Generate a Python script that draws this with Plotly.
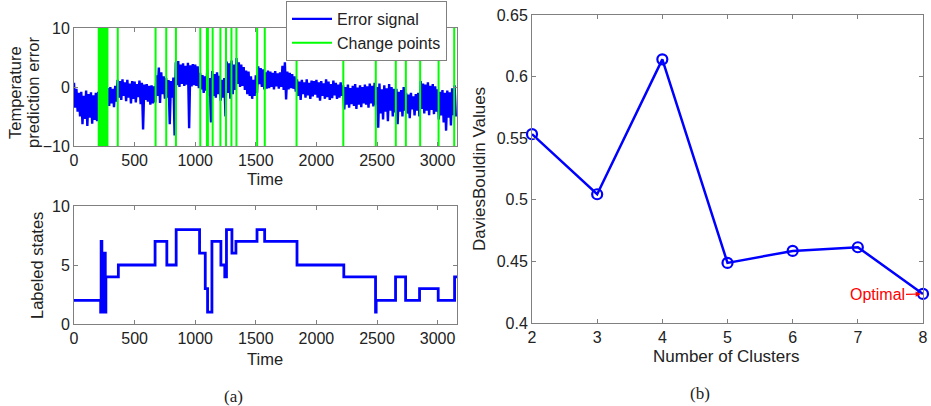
import plotly.graph_objects as go

# ---------------- DATA ----------------
# Error signal: envelope read per 20-unit time bin (upper / lower reading)
ERR_BIN = 20
err_upper = [
    0.7, -0.3, -1.0, -0.8, -1.5, -0.6, -1.2, -0.9, -1.4, -1.0,      # 0-200
    -0.8, -0.5, -0.3, -0.2, -0.2, 0.0, -0.3, 0.2, 1.2, 1.0,          # 200-400
    1.3, 0.8, 1.2, 0.6, 1.0, 0.9, 0.5, 1.1, 0.7, 0.4,                # 400-600
    0.5, 0.2, 0.3, 0.1, 2.0, 3.3, 2.5, 1.8, 1.5, 1.2,                # 600-800
    1.0, 1.6, 4.2, 4.4, 3.8, 4.0, 3.6, 4.1, 3.7, 3.9,                # 800-1000
    3.8, 3.5, 2.4, 2.0, 1.8, 3.0, 1.5, 2.7, 2.2, 2.5,                # 1000-1200
    1.9, 1.2, 1.5, 4.3, 4.0, 4.5, 3.8, 4.9, 4.2, 3.8,                # 1200-1400
    3.4, 2.8, 2.6, 1.8, 1.2, 2.0, 3.5, 3.2, 3.0, 2.5,                # 1400-1600
    2.8, 2.6, 2.4, 2.7, 2.3, 2.5, 3.6, 4.2, 2.6, 2.4,                # 1600-1800
    2.2, 1.8, 1.3, 0.9, 1.2, 0.8, 1.3, 0.7, 1.1, 1.0,                # 1800-2000
    1.2, 0.8, 1.0, 0.6, 1.3, 0.9, 0.5, 1.1, 0.7, 0.4,                # 2000-2200
    0.8, 0.3, 0.0, 0.4, -0.2, 0.2, 0.5, -0.1, 0.3, 0.0,              # 2200-2400
    0.4, 0.1, 0.6, 0.2, 0.7, 0.0, 0.6, -0.4, 0.3, -0.2,              # 2400-2600
    0.5, 0.0, -0.3, -0.3, -0.8, -0.5, 0.0, -1.0, -1.3, -1.0,         # 2600-2800
    -1.6, -1.2, -1.0, 1.0, 0.6, 0.4, 0.8, 0.2, 0.5, 0.1,             # 2800-3000
    -0.4, -0.8, -0.5, -1.0, -0.6, -0.9, -0.2, 0.3,                   # 3000-3160
]
err_lower = [
    -3.5, -4.2, -5.0, -6.3, -5.4, -6.6, -5.2, -6.2, -5.6, -5.8,
    -4.5, -3.8, -3.5, -3.0, -3.2, -2.8, -3.4, -2.5, -1.8, -2.2,
    -1.5, -2.4, -1.8, -2.8, -2.0, -2.6, -1.7, -2.9, -7.2, -2.2,
    -2.5, -3.0, -2.8, -2.6, -1.5, -2.7, -1.2, -2.0, -1.8, -6.3,
    -1.8, -8.2, 0.3, 0.0, 0.5, 0.2, 0.4, -7.0, 0.1, 0.3,
    0.2, -0.2, -0.4, -1.0, -0.6, -1.5, -6.0, -1.5, -1.8, -1.2,
    -2.3, -1.8, -5.0, -1.0, -2.0, -1.2, -0.5, 0.5, 0.0, 0.2,
    -0.5, -1.2, -1.5, -2.0, -1.5, -1.0, 0.5, 0.0, -0.4, -0.3,
    -0.2, 0.0, -0.4, 0.1, -0.3, 0.0, -0.5, -2.1, -0.4, -0.2,
    -0.3, -0.8, -1.5, -2.2, -1.2, -1.8, -1.4, -2.0, -1.6, -1.3,
    -1.8, -2.3, -1.5, -2.0, -1.7, -2.2, -1.9, -1.4, -2.0, -1.8,
    -1.5, -3.8, -3.0, -3.5, -2.9, -3.2, -3.7, -3.0, -3.4, -2.8,
    -3.0, -3.5, -2.8, -3.3, -3.0, -6.9, -4.5, -5.5, -4.2, -5.8,
    -4.0, -5.0, -4.3, -6.3, -4.2, -5.0, -4.0, -4.5, -5.3, -3.8,
    -4.8, -4.0, -5.0, -3.7, -4.5, -4.0, -4.8, -3.9, -4.6, -4.2,
    -5.5, -4.8, -6.0, -7.4, -5.2, -6.5, -4.8, -5.0,
]

change_points = [204, 210, 216, 222, 228, 234, 240, 246, 252, 258, 264, 270, 276,
                 361, 673, 761, 841, 1042, 1097, 1105, 1144, 1208, 1254, 1299, 1340,
                 1511, 1574, 1836, 2222, 2490, 2655, 2738, 2856, 3008, 3137]

# Labeled states (step function: time where each state starts)
state_times = [0, 220, 224, 230, 238, 245, 252, 258, 263, 366, 669, 766, 843, 1036,
               1083, 1102, 1138, 1212, 1244, 1258, 1303, 1336, 1510, 1573, 1840,
               2226, 2488, 2493, 2653, 2736, 2851, 3005, 3140, 3160]
state_values = [2, 1, 7, 1, 5, 1, 6, 1, 4, 5, 7, 5, 8, 6,
                3, 1, 7, 5, 4, 8, 6, 7, 8, 7, 5,
                4, 1, 2, 4, 2, 3, 2, 4, 4]

# Davies-Bouldin
n_clusters = [2, 3, 4, 5, 6, 7, 8]
db_values = [0.5533, 0.5045, 0.614, 0.4488, 0.4585, 0.4615, 0.4236]

time_ticks = [0, 500, 1000, 1500, 2000, 2500, 3000]
db_ticks = [0.4, 0.45, 0.5, 0.55, 0.6, 0.65]
db_ticktext = ["0.4", "0.45", "0.5", "0.55", "0.6", "0.65"]

# ---------------- BUILD ----------------
W, H = 931, 406
BLUE = "#0000FF"
GREEN = "#00FF00"
FRAME = "#808080"
TXT = "#222222"
FONT = "Liberation Sans, Arial, sans-serif"

def px(x):
    return x / W

def py(y):
    return 1 - y / H

n = min(len(err_upper), len(err_lower))
ex, ey = [], []
for i in range(n):
    t = i * ERR_BIN
    ex += [t, t + ERR_BIN / 2]
    ey += [err_upper[i], err_lower[i]]

cx, cy = [], []
for c in change_points:
    cx += [c, c, None]
    cy += [-10, 10, None]

fig = go.Figure()
fig.add_trace(go.Scatter(x=ex, y=ey, mode="lines", name="Error signal",
                         line=dict(color=BLUE, width=2.4), xaxis="x", yaxis="y"))
fig.add_trace(go.Scatter(x=cx, y=cy, mode="lines", name="Change points",
                         line=dict(color=GREEN, width=2), xaxis="x", yaxis="y"))
fig.add_trace(go.Scatter(x=state_times, y=state_values, mode="lines", showlegend=False,
                         line=dict(color=BLUE, width=2.8, shape="hv"), xaxis="x2", yaxis="y2"))
fig.add_trace(go.Scatter(x=n_clusters, y=db_values, mode="lines+markers", showlegend=False,
                         line=dict(color=BLUE, width=2.5),
                         marker=dict(symbol="circle-open", size=10, color=BLUE,
                                     line=dict(color=BLUE, width=2.2)),
                         cliponaxis=False, xaxis="x3", yaxis="y3"))

axcommon = dict(showline=True, linecolor=FRAME, linewidth=1, mirror="ticks",
                ticks="inside", ticklen=4, tickcolor=FRAME, showgrid=False,
                zeroline=False, automargin=False, ticklabeloverflow="allow",
                tickfont=dict(family=FONT, size=16, color=TXT))

fig.update_layout(
    width=W, height=H, autosize=False,
    margin=dict(l=0, r=0, t=0, b=0, autoexpand=False),
    paper_bgcolor="white", plot_bgcolor="white",
    font=dict(family=FONT, color=TXT),
    xaxis=dict(domain=[px(74), px(457)], range=[0, 3160], tickvals=time_ticks,
               anchor="y", **axcommon),
    yaxis=dict(domain=[py(146), py(28)], range=[-10, 10], tickvals=[-10, 0, 10],
               anchor="x", **axcommon),
    xaxis2=dict(domain=[px(74), px(457)], range=[0, 3160], tickvals=time_ticks,
                anchor="y2", **axcommon),
    yaxis2=dict(domain=[py(324), py(206)], range=[0, 10], tickvals=[0, 5, 10],
                anchor="x2", **axcommon),
    xaxis3=dict(domain=[px(532), px(923)], range=[2, 8], tickvals=n_clusters,
                anchor="y3", **axcommon),
    yaxis3=dict(domain=[py(323), py(15)], range=[0.4, 0.65], tickvals=db_ticks,
                ticktext=db_ticktext, anchor="x3", **axcommon),
    legend=dict(x=px(286), y=py(1), xanchor="left", yanchor="top",
                bgcolor="white", bordercolor=FRAME, borderwidth=1,
                font=dict(family=FONT, size=16, color=TXT), itemwidth=40,
                tracegroupgap=0),
    showlegend=True,
)

def label(text, x, y, angle=0, size=16.5, family=FONT, color=TXT):
    fig.add_annotation(text=text, x=px(x), y=py(y), xref="paper", yref="paper",
                       xanchor="center", yanchor="middle", textangle=angle,
                       showarrow=False, font=dict(family=family, size=size, color=color))

label("Temperature", 15, 93, angle=-90)
label("prediction error", 33, 93, angle=-90)
label("Time", 265, 179)
label("Labeled states", 37, 266, angle=-90)
label("Time", 265, 359)
label("DaviesBouldin Values", 479, 169, angle=-90, size=17)
label("Number of Clusters", 726, 356, size=17)
label("(a)", 233, 396, family="Liberation Serif, Times New Roman, serif", size=17)
label("(b)", 700, 393, family="Liberation Serif, Times New Roman, serif", size=17)

fig.add_annotation(text="Optimal", x=n_clusters[-1], y=db_values[-1],
                   xref="x3", yref="y3", ax=-46, ay=1, showarrow=True,
                   arrowcolor="#FF0000", arrowhead=2, arrowsize=0.9, arrowwidth=1.2,
                   standoff=2,
                   font=dict(family=FONT, size=16, color="#FF0000"))

fig.write_html("out.html", config={"displayModeBar": False},
               post_script="document.body.style.margin='0';document.body.style.overflow='hidden';")
